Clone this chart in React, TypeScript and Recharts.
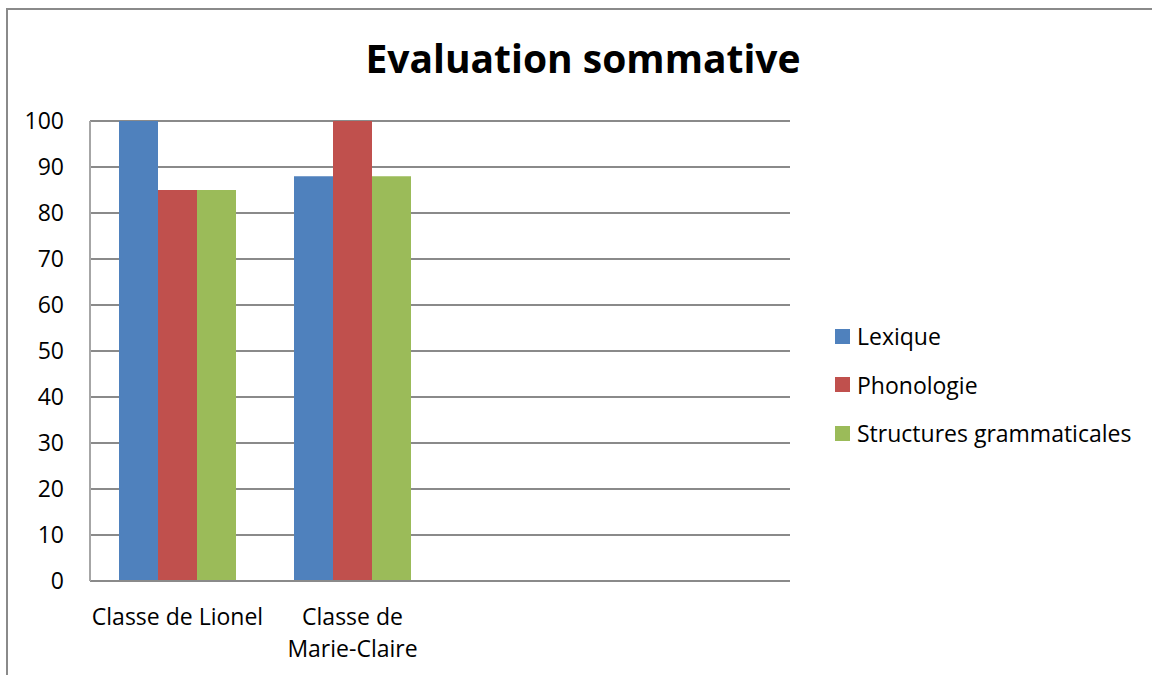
import React from "react";
import { BarChart, Bar, XAxis, YAxis, CartesianGrid, Legend } from "recharts";

const classes = ["Classe de Lionel", "Classe de\nMarie-Claire", "", ""];
const lexique = [100, 88, null, null];
const phonologie = [85, 100, null, null];
const structures = [85, 88, null, null];
const yTicks = [0, 10, 20, 30, 40, 50, 60, 70, 80, 90, 100];

const series = [
  { key: "lexique", name: "Lexique", color: "#4F81BD" },
  { key: "phonologie", name: "Phonologie", color: "#C0504D" },
  { key: "structures", name: "Structures grammaticales", color: "#9BBB59" },
];

const data = classes.map((c, i) => ({
  id: i,
  name: c,
  lexique: lexique[i],
  phonologie: phonologie[i],
  structures: structures[i],
}));

const FONT = "'Open Sans', sans-serif";
const LABEL_SIZE = 23;

function CategoryTick({ x, y, payload }: any) {
  const lines = String(payload.value).split("\n");
  return (
    <text x={x} y={y} textAnchor="middle" fontFamily={FONT} fontSize={LABEL_SIZE} fill="#000">
      {lines.map((l, i) => (
        <tspan key={i} x={x} dy={i === 0 ? 0 : 32}>
          {l}
        </tspan>
      ))}
    </text>
  );
}

function LegendList({ payload }: any) {
  return (
    <div style={{ fontFamily: FONT, fontSize: LABEL_SIZE, color: "#000" }}>
      {(payload || []).map((p: any) => (
        <div key={p.value} style={{ display: "flex", alignItems: "center", height: 48.5 }}>
          <span style={{ width: 15, height: 15, background: p.color, marginRight: 7 }} />
          <span>{p.value}</span>
        </div>
      ))}
    </div>
  );
}

export default function App() {
  return (
    <div style={{ position: "relative", width: 1152, height: 675, overflow: "hidden", background: "#fff" }}>
      <style>{"body{margin:0}"}</style>
      {/* chart frame: only top and left edges are visible */}
      <div
        style={{
          position: "absolute",
          left: 6,
          top: 8,
          width: 1200,
          height: 700,
          borderTop: "2px solid #8a8a8a",
          borderLeft: "2px solid #8a8a8a",
        }}
      />
      <svg style={{ position: "absolute", left: 0, top: 0 }} width={1152} height={100}>
        <text x={583} y={73} textAnchor="middle" fontFamily={FONT} fontWeight={700} fontSize={39} fill="#000">
          Evaluation sommative
        </text>
      </svg>
      <div style={{ position: "absolute", left: 0, top: 0 }}>
        <BarChart
          width={1152}
          height={675}
          data={data}
          margin={{ top: 121, right: 362, bottom: 0, left: 0 }}
          barCategoryGap={29}
          barGap={0}
        >
          <CartesianGrid vertical={false} stroke="#8a8a8a" strokeWidth={2} />
          <XAxis
            dataKey="name"
            height={94}
            interval={0}
            tickLine={false}
            tickSize={0}
            tickMargin={44}
            axisLine={{ stroke: "#8a8a8a", strokeWidth: 2 }}
            tick={<CategoryTick />}
          />
          <YAxis
            width={90}
            domain={[0, 100]}
            ticks={yTicks}
            interval={0}
            tickLine={false}
            tickSize={0}
            tickMargin={26}
            axisLine={{ stroke: "#a6a6a6", strokeWidth: 2 }}
            tick={{ fontFamily: FONT, fontSize: LABEL_SIZE, fill: "#000" }}
          />
          <Legend
            layout="vertical"
            align="center"
            verticalAlign="middle"
            wrapperStyle={{ left: 835, top: 312, width: 315 }}
            content={<LegendList />}
          />
          {series.map((s) => (
            <Bar key={s.key} dataKey={s.key} name={s.name} fill={s.color} isAnimationActive={false} />
          ))}
        </BarChart>
      </div>
    </div>
  );
}
